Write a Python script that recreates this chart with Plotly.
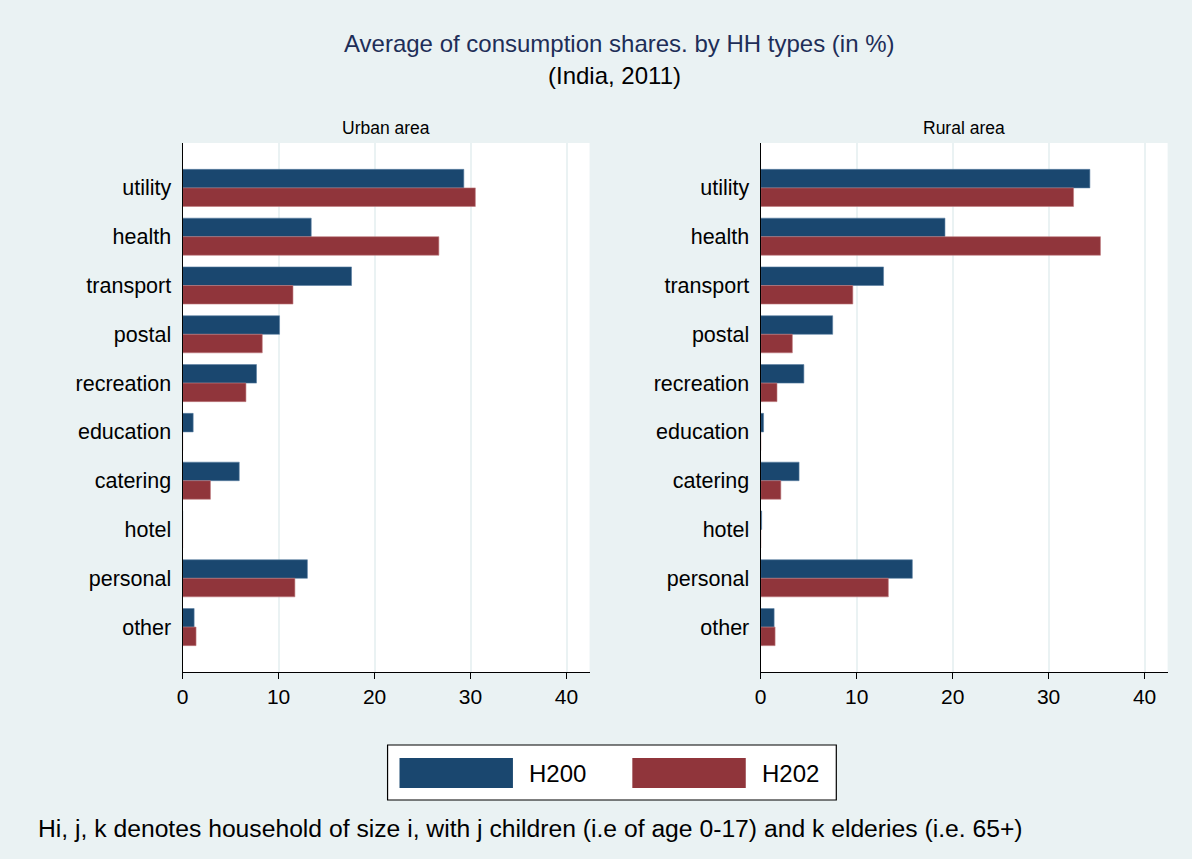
import plotly.graph_objects as go

categories = ["utility", "health", "transport", "postal", "recreation",
              "education", "catering", "hotel", "personal", "other"]
series_names = ["H200", "H202"]
urban_h200 = [29.3, 13.4, 17.6, 10.1, 7.7, 1.1, 5.9, 0.0, 13.0, 1.2]
urban_h202 = [30.5, 26.7, 11.5, 8.3, 6.6, 0.0, 2.9, 0.0, 11.7, 1.4]
rural_h200 = [34.3, 19.2, 12.8, 7.5, 4.5, 0.3, 4.0, 0.1, 15.8, 1.4]
rural_h202 = [32.6, 35.4, 9.6, 3.3, 1.7, 0.0, 2.1, 0.0, 13.3, 1.5]
x_ticks = [0, 10, 20, 30, 40]
panel_titles = ["Urban area", "Rural area"]

BLUE = "#1a476f"
RED = "#90353b"
BG = "#eaf2f3"
FONT = "Liberation Sans, Arial, sans-serif"
W, H = 1192, 859
DX = -3.5  # horizontal correction in px

def px(x):
    return (x + DX) / W

fig = go.Figure()
panels = [(urban_h200, urban_h202, "x", "y"), (rural_h200, rural_h202, "x2", "y2")]
for vals_a, vals_b, xa, ya in panels:
    for name, vals, col, edge in [(series_names[0], vals_a, BLUE, "#5a7fa3"),
                                  (series_names[1], vals_b, RED, "#c07c80")]:
        fig.add_trace(go.Bar(
            y=categories, x=vals, name=name, orientation="h",
            marker=dict(color=col, line=dict(color=edge, width=0.6)),
            xaxis=xa, yaxis=ya, showlegend=False,
        ))

xdom1 = [px(181), px(590)]
xdom2 = [px(762), px(1171)]
ydom = [1 - 672 / H, 1 - 143 / H]

xaxis_common = dict(
    range=[0, 42.4], tickvals=x_ticks, showgrid=True, gridcolor=BG, gridwidth=2,
    showline=True, linecolor="black", linewidth=1.2, ticks="outside",
    ticklen=6, tickcolor="black", zeroline=False,
    tickfont=dict(family=FONT, size=21, color="black"), fixedrange=True,
)
yaxis_common = dict(
    type="category", categoryorder="array", categoryarray=categories,
    range=[9.92, -0.92], showgrid=False, showline=True, linecolor="black",
    linewidth=1.2, ticks="", ticklabelstandoff=6,
    tickfont=dict(family=FONT, size=21.5, color="black"), fixedrange=True,
)

fig.update_layout(
    width=W, height=H,
    margin=dict(l=0, r=0, t=0, b=0),
    paper_bgcolor=BG, plot_bgcolor="white",
    barmode="group", bargap=0.24, bargroupgap=0,
    font=dict(family=FONT, color="black"),
    xaxis=dict(domain=xdom1, anchor="y", **xaxis_common),
    yaxis=dict(domain=ydom, anchor="x", **yaxis_common),
    xaxis2=dict(domain=xdom2, anchor="y2", **xaxis_common),
    yaxis2=dict(domain=ydom, anchor="x2", **yaxis_common),
    showlegend=False,
)

annotations = [
    dict(text="Average of consumption shares. by HH types (in %)", x=px(620), y=1 - 44 / H,
         xref="paper", yref="paper", showarrow=False, xanchor="center", yanchor="middle",
         font=dict(family=FONT, size=24, color="#1e2e58")),
    dict(text="(India, 2011)", x=px(615), y=1 - 76 / H,
         xref="paper", yref="paper", showarrow=False, xanchor="center", yanchor="middle",
         font=dict(family=FONT, size=24, color="black")),
    dict(text=panel_titles[0], x=(xdom1[0] + xdom1[1]) / 2, y=1 - 128 / H,
         xref="paper", yref="paper", showarrow=False, xanchor="center", yanchor="middle",
         font=dict(family=FONT, size=17.5, color="black")),
    dict(text=panel_titles[1], x=(xdom2[0] + xdom2[1]) / 2, y=1 - 128 / H,
         xref="paper", yref="paper", showarrow=False, xanchor="center", yanchor="middle",
         font=dict(family=FONT, size=17.5, color="black")),
    dict(text="Hi, j, k denotes household of size i, with j children (i.e of age 0-17) and k elderies (i.e. 65+)",
         x=px(34), y=1 - 828 / H, xref="paper", yref="paper", showarrow=False,
         xanchor="left", yanchor="middle", font=dict(family=FONT, size=24.7, color="black")),
    dict(text=series_names[0], x=px(527), y=1 - 773 / H, xref="paper", yref="paper",
         showarrow=False, xanchor="left", yanchor="middle",
         font=dict(family=FONT, size=24, color="black")),
    dict(text=series_names[1], x=px(761), y=1 - 773 / H, xref="paper", yref="paper",
         showarrow=False, xanchor="left", yanchor="middle",
         font=dict(family=FONT, size=24, color="black")),
]
fig.update_layout(annotations=annotations)

def px_rect(x0, y0, x1, y1, fill, line_color=None, lw=0):
    return dict(type="rect", xref="paper", yref="paper",
                x0=px(x0), x1=px(x1), y0=1 - y1 / H, y1=1 - y0 / H,
                fillcolor=fill, line=dict(color=line_color or fill, width=lw), layer="above")

shapes = [
    px_rect(387, 745, 838, 800, "white", "black", 1.2),
    px_rect(399, 758, 513, 788, BLUE),
    px_rect(633, 758, 747, 788, RED),
]
fig.update_layout(shapes=shapes)

fig.write_html("out.html", config={"displayModeBar": False},
               post_script="document.body.style.margin='0';")
